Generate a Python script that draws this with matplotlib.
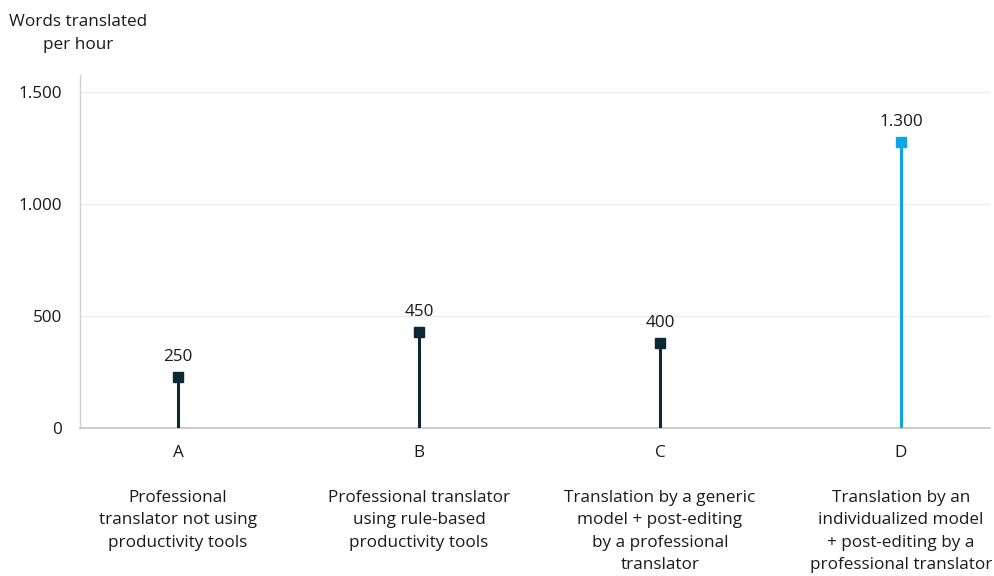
import matplotlib
matplotlib.use("Agg")
import matplotlib.pyplot as plt
from matplotlib.transforms import offset_copy

plt.rcParams['font.family'] = ['Open Sans', 'DejaVu Sans']

categories = ["A", "B", "C", "D"]
descriptions = [
    "Professional\ntranslator not using\nproductivity tools",
    "Professional translator\nusing rule-based\nproductivity tools",
    "Translation by a generic\nmodel + post-editing\nby a professional\ntranslator",
    "Translation by an\nindividualized model\n+ post-editing by a\nprofessional translator",
]
values = [250, 450, 400, 1300]
value_labels = ["250", "450", "400", "1.300"]
colors = ["#0b2833", "#0b2833", "#0b2833", "#0ea5e4"]
yticks = [0, 500, 1000, 1500]
ytick_labels = ["0", "500", "1.000", "1.500"]

W, H = 995, 576
FS = 12.3
fig = plt.figure(figsize=(W / 100, H / 100), dpi=100)
ax = fig.add_axes([80 / W, 1 - 428 / H, (990 - 80) / W, (428 - 75) / H])

xs = list(range(len(categories)))
for x, v, c, lab in zip(xs, values, colors, value_labels):
    ax.plot([x, x], [0, v], color=c, lw=2.2, solid_capstyle='butt', zorder=3)
    tr = offset_copy(ax.transData, fig=fig, x=0, y=-5, units='dots')
    ax.plot([x], [v], marker='s', ms=7.5, color=c, transform=tr, zorder=4)
    ax.annotate(lab, (x, v), xytext=(0, 5), textcoords='offset points',
                ha='center', va='bottom', fontsize=FS, color='#1a1a1a')

ax.set_xlim(-0.407, 3.37)
ax.set_ylim(0, 1576)
ax.set_yticks(yticks)
ax.set_yticklabels(ytick_labels)
ax.set_xticks(xs)
ax.set_xticklabels(categories)
ax.tick_params(axis='both', length=0, labelsize=FS, colors='#1a1a1a')
ax.tick_params(axis='y', pad=13)
ax.tick_params(axis='x', pad=12)
ax.grid(axis='y', color='#ececec', lw=1)
ax.set_axisbelow(True)
for s in ['top', 'right']:
    ax.spines[s].set_visible(False)
ax.spines['left'].set_color('#d0d0d0')
ax.spines['bottom'].set_color('#c4c4c4')
ax.spines['left'].set_linewidth(1)
ax.spines['bottom'].set_linewidth(1.2)

for x, d in zip(xs, descriptions):
    ax.annotate(d, (x, 0), xycoords=('data', 'axes fraction'), xytext=(0, -44.5),
                textcoords='offset points', ha='center', va='top',
                fontsize=FS, color='#1a1a1a', linespacing=1.53)

fig.text(78 / W, 1 - 14 / H, "Words translated\nper hour", ha='center', va='top',
         fontsize=FS, color='#1a1a1a', linespacing=1.6)

fig.savefig("out.png", dpi=100)
